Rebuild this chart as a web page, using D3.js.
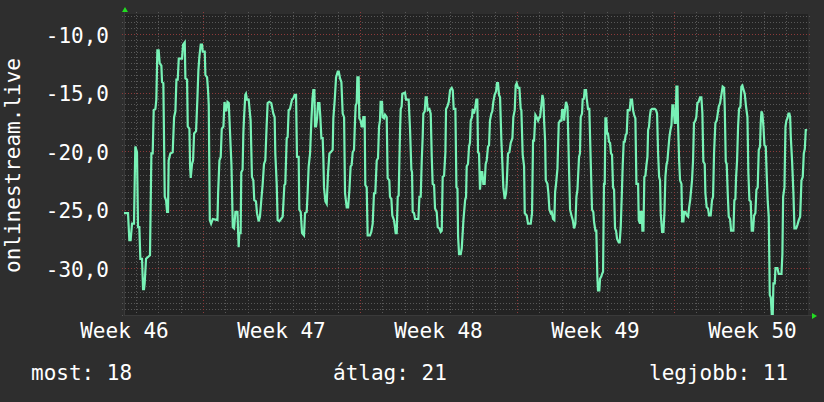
<!DOCTYPE html>
<html>
<head>
<meta charset="utf-8">
<script src="https://cdn.jsdelivr.net/npm/d3@7"></script>
<style>
  body { margin: 0; background: #2e2e2e; }
  svg { display: block; }
  text { font-family: "DejaVu Sans Mono", monospace; fill: #fff; }
  .grid line { shape-rendering: crispEdges; }
</style>
</head>
<body>
<svg id="chart" width="824" height="402"></svg>
<script>
// rank history, hours after the first sample
var startTime = new Date(Date.UTC(2023, 10, 16, 11, 30));
var spanHours = 731.9;

var hours = [
  0,4.3,5.7,7.1,8.6,10.7,12.1,13.9,15.0,16.4,17.5,19.3,20.4,21.4,22.1,23.6,27.8,29.3,30.7,31.8,33.6,34.6,35.7,37.1,38.2,40.0,40.7,42.1,43.6,45.0,46.1,47.1,47.8,49.6,52.1,53.6,55.0,56.1,57.5,58.6,62.1,63.2,65.0,65.7,67.5,68.2,70.0,70.7,71.4,72.8,73.9,75.0,77.1,78.5,79.6,80.7,82.1,83.5,84.3,86.4,87.1,88.9,90.0,90.7,91.8,93.2,95.0,100.0,100.7,102.1,103.5,104.6,106.4,107.5,109.3,110.7,112.1,113.5,115.0,116.4,117.8,119.2,121.4,
  122.7,123.4,124.8,125.5,126.9,127.7,128.4,129.8,130.5,131.6,133.4,134.1,135.5,136.9,138.4,139.4,141.2,142.3,144.1,145.5,146.9,148.4,149.8,151.2,152.6,153.7,155.5,157.6,159.8,161.2,161.9,163.4,164.4,166.2,168.0,169.8,171.6,172.6,174.1,175.1,176.2,177.6,179.8,181.2,182.6,184.1,185.1,186.9,187.6,189.1,190.5,192.6,193.7,195.5,196.6,197.6,199.1,200.5,201.6,202.6,203.7,204.4,205.5,206.6,207.6,209.1,210.1,211.2,212.6,213.3,214.0,215.5,216.9,218.3,219.8,221.2,223.3,224.0,225.5,226.9,228.7,229.8,231.2,232.6,234.0,235.5,236.5,238.3,239.8,241.2,
  242.5,243.6,244.7,246.1,247.2,247.9,249.0,249.7,251.1,251.8,253.2,254.3,255.4,256.1,257.5,258.2,259.7,260.7,263.2,264.6,266.1,267.5,268.9,270.4,271.8,272.9,273.9,274.6,276.1,276.8,278.2,279.3,281.1,282.1,283.9,284.6,286.1,287.1,288.9,289.6,290.7,291.8,292.9,293.9,294.6,295.4,296.1,297.1,297.8,300.7,301.8,304.6,306.1,307.5,308.2,308.9,310.3,311.4,315.0,316.1,317.5,318.6,319.6,320.3,321.8,322.8,323.9,325.0,326.8,328.2,329.3,330.3,331.8,332.8,334.6,335.7,337.5,338.9,340.0,341.0,342.5,343.9,344.6,346.0,347.5,348.9,350.7,351.8,352.8,354.6,355.7,356.8,357.5,358.5,360.3,361.4,363.2,365.0,366.0,
  366.7,368.1,369.2,370.2,371.0,372.4,373.1,374.5,375.6,377.0,378.1,378.8,379.9,380.9,382.4,383.4,384.5,385.9,387.0,388.1,389.5,390.6,391.6,393.1,394.1,395.2,396.6,398.1,399.1,400.2,401.3,402.4,403.8,404.9,405.9,407.4,408.8,409.5,410.9,412.4,413.8,415.6,416.6,418.1,419.1,420.2,421.6,423.1,424.5,425.2,426.6,428.1,428.8,430.9,432.3,435.2,436.6,437.7,438.8,440.2,441.6,443.1,444.5,445.2,446.6,447.7,448.8,449.5,450.6,451.3,453.1,454.1,455.2,456.6,457.7,459.1,460.5,461.3,462.3,463.8,465.2,466.6,468.0,468.8,469.8,470.9,472.0,473.0,474.5,475.2,476.3,477.3,478.8,480.2,481.6,483.0,484.1,485.2,
  486.9,487.9,488.7,490.1,490.8,492.2,492.9,494.4,495.1,496.5,497.9,499.4,500.8,502.2,502.9,504.4,505.4,506.5,507.2,508.6,509.4,510.8,511.5,512.6,513.6,514.4,515.1,516.1,516.9,517.9,519.0,520.1,521.1,522.2,523.3,524.4,525.4,526.5,527.6,529.4,530.4,531.5,532.6,533.6,534.7,535.8,536.9,537.9,539.0,541.1,542.2,543.6,544.7,545.8,547.2,548.3,550.1,550.8,552.2,552.9,554.0,554.7,555.8,556.8,557.9,559.0,560.1,560.8,561.8,562.6,563.6,565.1,567.9,569.3,570.4,571.5,572.6,573.6,574.3,575.8,577.2,578.3,579.3,580.4,581.5,582.5,583.6,584.7,585.8,586.8,587.9,588.6,589.3,590.4,591.1,592.2,592.9,594.0,595.0,596.5,597.2,598.6,599.3,600.8,602.2,603.6,604.7,605.8,
  607.8,608.9,609.9,611.4,612.4,613.5,614.9,616.4,617.8,618.9,619.9,621.4,622.1,623.5,624.9,626.0,627.8,629.2,630.3,631.4,632.8,634.2,635.3,636.4,637.8,639.2,640.6,642.1,642.8,643.9,644.9,646.0,647.1,648.5,649.6,652.1,653.1,654.2,654.9,656.0,657.1,658.1,659.6,660.6,661.7,663.1,664.2,665.6,667.1,668.1,669.2,670.6,671.7,673.1,674.2,675.6,676.7,678.1,679.2,680.6,681.3,682.1,683.1,684.2,685.3,686.7,687.8,688.8,689.9,691.0,692.1,693.1,694.2,694.9,696.3,697.1,699.2,700.6,703.5,704.5,705.3,706.7,707.8,708.8,709.9,711.0,712.0,712.8,713.5,714.9,716.3,717.4,719.2,720.6,722.0,723.5,724.9,726.3,727.4,728.5,729.5,731.0
];

var rank = [
  -25.3,-25.3,-27.6,-27.6,-26.2,-26.2,-19.6,-20.1,-26.5,-26.5,-29.2,-29.2,-31.8,-31.8,-31.3,-29.2,-28.9,-20.2,-20.2,-16.5,-16.4,-15.6,-11.4,-11.4,-12.5,-12.7,-14.1,-14.2,-23.9,-24.2,-25.2,-25.2,-20.8,-20.2,-20.1,-17.1,-16.6,-13.9,-13.9,-12.1,-12.1,-10.9,-10.7,-13.8,-13.9,-17.9,-18.1,-21.3,-22.3,-21.1,-20.8,-18.5,-18.3,-15.6,-13.1,-11.9,-10.9,-10.9,-11.5,-11.5,-13.5,-13.7,-14.9,-16.1,-25.9,-26.2,-25.8,-25.9,-23.6,-20.8,-20.5,-18.1,-17.9,-15.8,-16.6,-15.8,-15.9,-18.5,-21.2,-26.5,-26.6,-25.2,-25.2,
  -28.2,-27.0,-27.0,-21.8,-21.6,-18.5,-17.2,-15.2,-15.1,-15.6,-15.6,-16.2,-17.4,-22.2,-22.5,-24.2,-24.3,-25.3,-26.0,-25.6,-24.2,-22.8,-21.1,-20.8,-17.9,-15.9,-15.8,-15.9,-16.8,-17.1,-20.2,-22.8,-25.9,-26.0,-25.8,-25.6,-22.9,-22.8,-18.9,-18.8,-16.5,-16.4,-15.6,-15.5,-15.2,-15.2,-20.5,-20.5,-25.0,-25.2,-27.0,-27.2,-25.3,-25.2,-23.3,-21.3,-20.2,-17.4,-15.6,-14.8,-14.8,-17.9,-17.9,-17.2,-15.9,-15.9,-17.1,-18.9,-18.9,-20.5,-23.1,-24.3,-24.5,-21.9,-20.2,-20.1,-19.9,-17.2,-15.6,-13.7,-13.2,-13.2,-13.8,-14.1,-16.8,-17.1,-23.6,-24.8,-24.8,-23.3,
  -21.3,-21.2,-20.1,-19.9,-17.4,-16.1,-15.9,-13.7,-13.7,-17.2,-17.4,-17.9,-17.9,-17.1,-17.1,-22.9,-23.1,-27.2,-27.2,-26.9,-26.2,-23.6,-23.6,-20.8,-20.6,-17.9,-17.4,-15.8,-15.8,-17.1,-17.2,-16.9,-17.1,-22.3,-22.5,-23.9,-24.1,-25.5,-25.9,-26.3,-27.0,-27.0,-23.9,-23.8,-21.1,-18.2,-16.4,-16.2,-15.1,-15.0,-15.6,-15.6,-18.2,-21.6,-21.8,-25.2,-25.3,-25.8,-25.8,-23.9,-23.9,-20.8,-18.8,-16.8,-16.6,-15.4,-15.4,-16.5,-16.4,-16.8,-20.5,-22.8,-22.9,-24.9,-25.2,-26.5,-26.6,-26.9,-26.8,-22.2,-22.1,-20.1,-16.4,-16.2,-15.8,-14.8,-14.6,-14.8,-16.4,-16.4,-23.1,-23.2,-27.3,-28.8,-28.8,-28.3,-25.9,-24.2,-23.9,
  -21.3,-21.1,-19.6,-19.3,-17.4,-17.1,-16.4,-16.8,-16.4,-15.6,-15.6,-20.1,-20.2,-23.3,-21.8,-21.8,-22.8,-22.8,-21.1,-20.8,-19.6,-19.5,-17.4,-16.8,-16.6,-15.8,-15.2,-14.9,-14.2,-14.2,-15.2,-15.4,-19.1,-21.1,-23.1,-24.1,-23.6,-22.8,-20.2,-20.1,-19.3,-18.9,-17.1,-16.5,-14.4,-14.2,-14.6,-14.6,-16.4,-16.5,-20.3,-21.3,-25.3,-25.5,-26.2,-26.2,-25.3,-19.1,-19.1,-16.9,-17.1,-17.4,-17.1,-17.1,-16.1,-15.2,-15.6,-17.4,-19.1,-22.5,-22.8,-23.6,-25.0,-25.3,-25.2,-25.8,-25.9,-23.5,-22.8,-21.5,-17.6,-17.4,-17.4,-16.5,-16.5,-17.4,-16.4,-15.8,-16.2,-18.2,-21.9,-25.0,-25.5,-25.9,-26.6,-26.2,-23.9,-23.3,
  -20.5,-20.2,-17.1,-16.8,-15.6,-15.5,-14.8,-14.8,-15.5,-16.4,-16.4,-20.8,-25.0,-25.2,-26.0,-26.8,-26.8,-30.7,-31.9,-31.9,-30.9,-30.7,-30.5,-30.3,-22.8,-22.8,-17.2,-17.2,-18.5,-18.5,-19.2,-19.3,-20.2,-20.3,-23.1,-23.3,-26.6,-26.8,-27.5,-27.8,-27.8,-26.5,-23.9,-21.3,-19.2,-19.2,-18.6,-18.5,-16.5,-16.5,-15.6,-15.6,-16.5,-16.9,-17.2,-22.8,-22.8,-25.9,-26.2,-25.2,-25.2,-26.8,-26.8,-22.2,-22.1,-21.2,-20.5,-18.2,-17.9,-17.1,-16.5,-16.4,-16.4,-16.5,-16.8,-20.2,-22.2,-22.5,-25.3,-26.9,-26.9,-25.2,-22.2,-21.2,-20.8,-19.8,-18.8,-18.2,-17.8,-16.1,-16.1,-16.9,-17.6,-17.6,-14.5,-14.5,-17.8,-20.8,-22.5,-22.8,-26.0,-26.0,-25.2,-25.2,-25.5,-25.6,-24.8,-24.2,
  -22.5,-20.8,-17.6,-17.4,-17.1,-15.9,-15.8,-15.4,-15.4,-16.8,-20.9,-21.1,-23.6,-24.8,-24.9,-25.5,-25.5,-24.2,-23.9,-20.1,-17.6,-17.4,-16.8,-16.2,-15.9,-15.2,-14.5,-14.6,-16.2,-20.9,-21.1,-23.6,-25.6,-25.8,-26.8,-26.8,-24.2,-24.1,-22.3,-20.8,-17.9,-16.4,-16.2,-14.5,-14.4,-14.8,-15.1,-16.2,-17.1,-21.9,-24.2,-24.3,-26.8,-26.8,-25.5,-25.3,-23.3,-23.1,-19.9,-19.6,-17.6,-16.6,-16.8,-17.9,-19.5,-19.6,-22.2,-24.3,-25.6,-32.3,-32.5,-33.9,-33.9,-31.3,-31.3,-30.0,-30.0,-30.5,-30.5,-28.8,-23.9,-23.1,-17.9,-17.4,-17.2,-16.8,-16.8,-17.1,-18.8,-20.9,-23.6,-26.6,-26.6,-26.3,-25.9,-25.6,-22.5,-22.2,-20.2,-19.8,-18.2,-18.2
];

var yTicks = [-10, -15, -20, -25, -30];
var yTickLabels = ["-10,0", "-15,0", "-20,0", "-25,0", "-30,0"];
var weekLabels = ["Week 46", "Week 47", "Week 48", "Week 49", "Week 50"];
var yTitle = "onlinestream.live";
var legendLabels = ["most: 18", "átlag: 21", "legjobb: 11"];
var legendX = [31, 333, 649];

var svg = d3.select("#chart");
var pLeft = 124, pRight = 808, pTop = 14, pBottom = 315;
var HOUR = 3600 * 1000;
var endTime = new Date(+startTime + spanHours * HOUR);

var x = d3.scaleUtc().domain([startTime, endTime]).range([pLeft, pRight]);
var y = d3.scaleLinear().domain([-34, -8.29]).range([pBottom, pTop]);

function px(v){ return Math.round(v); }

// canvas
svg.append("rect")
  .attr("x", pLeft).attr("y", pTop)
  .attr("width", pRight - pLeft).attr("height", pBottom - pTop)
  .attr("fill", "#232323");

var grid = svg.append("g").attr("class", "grid");

// horizontal grid, minor every 0.5, major every 5
var minorY = d3.range(-34, -8.29, 0.5).filter(function(v){ return v % 5 != 0; });
grid.append("g").selectAll("line").data(minorY).enter().append("line")
  .attr("x1", pLeft - 2).attr("x2", pRight + 3)
  .attr("y1", function(d){ return px(y(d)); })
  .attr("y2", function(d){ return px(y(d)); })
  .attr("stroke", "#585858").attr("stroke-dasharray", "1,2");

// vertical grid, minor per day, major at week start
var days = d3.utcDay.range(d3.utcDay.ceil(startTime), endTime);
var mondays = days.filter(function(d){ return d.getUTCDay() == 1; });
grid.append("g").selectAll("line").data(days.filter(function(d){ return d.getUTCDay() != 1; }))
  .enter().append("line")
  .attr("x1", function(d){ return px(x(d)); })
  .attr("x2", function(d){ return px(x(d)); })
  .attr("y1", pTop - 2).attr("y2", pBottom + 2)
  .attr("stroke", "#585858").attr("stroke-dasharray", "1,2");

grid.append("g").selectAll("line").data(yTicks).enter().append("line")
  .attr("x1", pLeft - 2).attr("x2", pRight + 3)
  .attr("y1", function(d){ return px(y(d)); })
  .attr("y2", function(d){ return px(y(d)); })
  .attr("stroke", "#8c3a3a").attr("stroke-dasharray", "1,2");

grid.append("g").selectAll("line").data(mondays).enter().append("line")
  .attr("x1", function(d){ return px(x(d)); })
  .attr("x2", function(d){ return px(x(d)); })
  .attr("y1", pTop - 2).attr("y2", pBottom + 2)
  .attr("stroke", "#8c3a3a").attr("stroke-dasharray", "1,2");

// axes
grid.append("line").attr("x1", pLeft).attr("x2", pLeft)
  .attr("y1", pTop - 4).attr("y2", pBottom + 1).attr("stroke", "#3a3a3a");
grid.append("line").attr("x1", pLeft).attr("x2", pRight + 4)
  .attr("y1", pBottom).attr("y2", pBottom).attr("stroke", "#3a3a3a");
svg.append("path").attr("d", "M122,12L125,7L128,12Z").attr("fill", "#22dd22");
svg.append("path").attr("d", "M812,313L817,316L812,319Z").attr("fill", "#22dd22");

// y labels
svg.append("g").selectAll("text").data(yTicks).enter().append("text")
  .attr("x", 109)
  .attr("y", function(d){ return y(d) + 8.5; })
  .attr("text-anchor", "end")
  .attr("font-size", 21)
  .text(function(d, i){ return yTickLabels[i]; });

// week labels, centred on the middle of each week
var weekStarts = d3.utcMonday.range(d3.utcMonday.floor(startTime), endTime);
svg.append("g").selectAll("text").data(weekStarts).enter().append("text")
  .attr("x", function(d){ return x(new Date(+d + 3.5 * 24 * HOUR)); })
  .attr("y", 338)
  .attr("text-anchor", "middle")
  .attr("font-size", 21)
  .text(function(d, i){ return weekLabels[i]; });

svg.append("text")
  .attr("transform", "translate(20," + ((pTop + pBottom) / 2 + 1) + ") rotate(-90)")
  .attr("text-anchor", "middle")
  .attr("font-size", 21)
  .text(yTitle);

// the series
var points = hours.map(function(h, i){ return {t: new Date(+startTime + h * HOUR), v: rank[i]}; });
var line = d3.line()
  .x(function(d){ return x(d.t); })
  .y(function(d){ return y(d.v); });

svg.append("path").datum(points)
  .attr("fill", "none")
  .attr("stroke", "#78f2b6")
  .attr("stroke-width", 2.2)
  .attr("stroke-linejoin", "miter")
  .attr("d", line);

// legend
svg.append("g").selectAll("text").data(legendLabels).enter().append("text")
  .attr("x", function(d, i){ return legendX[i]; })
  .attr("y", 380)
  .attr("font-size", 21)
  .text(function(d){ return d; });
</script>
</body>
</html>
